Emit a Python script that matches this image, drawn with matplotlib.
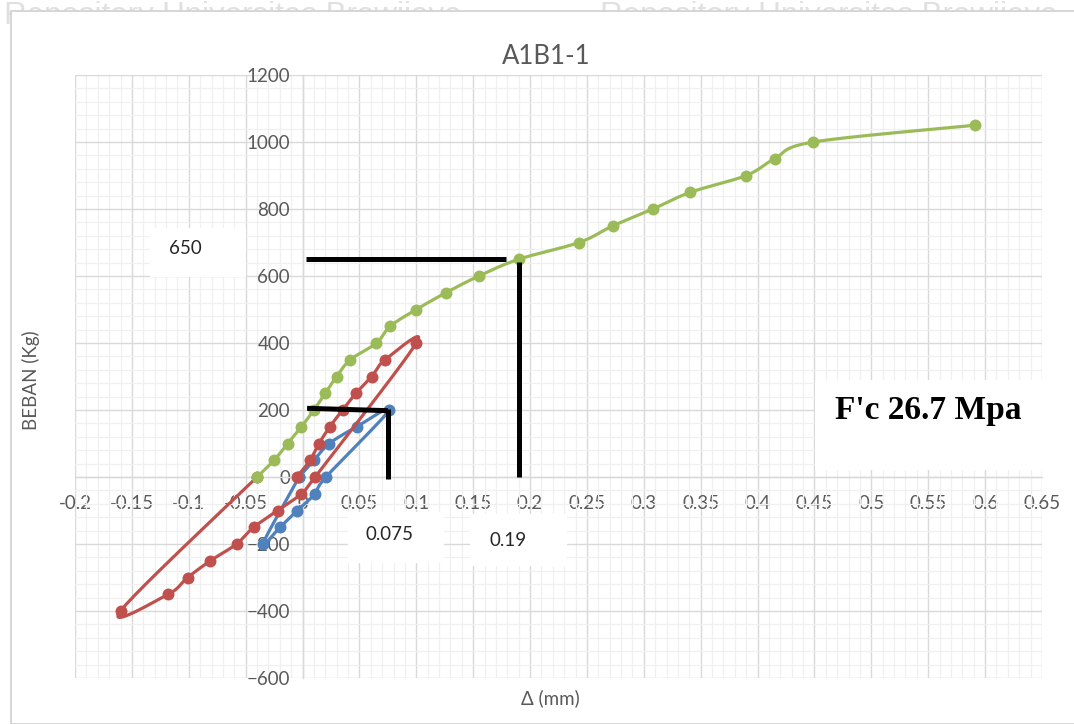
import numpy as np
import matplotlib
matplotlib.use("Agg")
import matplotlib.pyplot as plt
from matplotlib.patches import Rectangle
from matplotlib.ticker import MultipleLocator, FixedLocator

# ---- data: deflection (mm) and load (kg) ----
blue_x = [-0.003, 0.010, 0.0236, 0.0476, 0.0763, 0.0206, 0.011, -0.0046, -0.0198, -0.035, -0.003]
blue_y = [0, 50, 100, 150, 200, 0, -50, -100, -150, -200, 0]

red_x = [-0.005, 0.0066, 0.0145, 0.0240, 0.0352, 0.0470, 0.0608, 0.0725, 0.100,
         0.011, -0.001, -0.022, -0.043, -0.058, -0.081, -0.101, -0.118, -0.160, -0.040]
red_y = [0, 50, 100, 150, 200, 250, 300, 350, 400,
         0, -50, -100, -150, -200, -250, -300, -350, -400, 0]

green_x = [-0.040, -0.025, -0.013, -0.001, 0.010, 0.020, 0.030, 0.042, 0.065, 0.077,
           0.100, 0.126, 0.155, 0.190, 0.243, 0.273, 0.308, 0.341, 0.390, 0.415,
           0.449, 0.591]
green_y = [0, 50, 100, 150, 200, 250, 300, 350, 400, 450,
           500, 550, 600, 650, 700, 750, 800, 850, 900, 950,
           1000, 1050]

x_ticks = [-0.2, -0.15, -0.1, -0.05, 0, 0.05, 0.1, 0.15, 0.2, 0.25, 0.3, 0.35,
           0.4, 0.45, 0.5, 0.55, 0.6, 0.65]
x_tick_labels = ["-0.2", "-0.15", "-0.1", "-0.05", "0", "0.05", "0.1", "0.15", "0.2",
                 "0.25", "0.3", "0.35", "0.4", "0.45", "0.5", "0.55", "0.6", "0.65"]
y_ticks = [-600, -400, -200, 0, 200, 400, 600, 800, 1000, 1200]

# reference marks (ultimate/yield readings)
mark_650 = 650
mark_019 = 0.19
mark_200 = 200
mark_0075 = 0.075

FONT = ["Lato", "DejaVu Sans"]
GRAY_TXT = "#595959"
W, H = 1074, 724

fig = plt.figure(figsize=(W / 100, H / 100), dpi=100)
fig.patch.set_facecolor("white")


def fx(px):
    return px / W


def fy(py):
    return 1 - py / H


# faint repository watermark peeking around the chart frame
for xs in (4, 600):
    fig.text(fx(xs), fy(1), "Repository Universitas Brawijaya", fontsize=22.5,
             family=["Liberation Sans"], color="#e0e0e0", va="top", ha="left",
             zorder=-3)
fig.add_artist(Rectangle((fx(11), 0), 1.0, fy(11), transform=fig.transFigure,
                         facecolor="white", edgecolor="#d0d0d0", linewidth=1.2,
                         zorder=-2))

ax = fig.add_axes([fx(75), fy(678), (1042 - 75) / W, (678 - 75) / H])
ax.set_facecolor("none")
ax.set_xlim(-0.2, 0.65)
ax.set_ylim(-600, 1200)

# grid
ax.xaxis.set_major_locator(FixedLocator(x_ticks))
ax.yaxis.set_major_locator(FixedLocator(y_ticks))
ax.xaxis.set_minor_locator(MultipleLocator(0.01))
ax.yaxis.set_minor_locator(MultipleLocator(40))
ax.grid(which="major", color="#d9d9d9", linewidth=1.0, zorder=0)
ax.grid(which="minor", color="#f0f0f0", linewidth=0.9, zorder=0)
ax.set_axisbelow(True)

for s in ("top", "right"):
    ax.spines[s].set_visible(False)
ax.spines["left"].set_position(("data", 0))
ax.spines["bottom"].set_position(("data", 0))
for s in ("left", "bottom"):
    ax.spines[s].set_color("#d9d9d9")
    ax.spines[s].set_linewidth(1.0)

ax.set_xticklabels(x_tick_labels)
ax.tick_params(which="both", length=0)
ax.tick_params(axis="x", pad=13, labelsize=13.5, labelcolor=GRAY_TXT)
ax.tick_params(axis="y", pad=9, labelsize=13.5, labelcolor=GRAY_TXT)
for lab in ax.get_xticklabels() + ax.get_yticklabels():
    lab.set_family(FONT)

fig.canvas.draw()


def smooth_line(xs, ys, n=24):
    """Smoothed polyline through the points (Catmull-Rom in display space)."""
    P = ax.transData.transform(np.column_stack([xs, ys]))
    pts = np.vstack([P[0], P, P[-1]])
    out = []
    for i in range(1, len(pts) - 2):
        p0, p1, p2, p3 = pts[i - 1], pts[i], pts[i + 1], pts[i + 2]
        c1 = p1 + (p2 - p0) / 6.0
        c2 = p2 - (p3 - p1) / 6.0
        t = np.linspace(0, 1, n)[:, None]
        seg = ((1 - t) ** 3) * p1 + 3 * ((1 - t) ** 2) * t * c1 + 3 * (1 - t) * t ** 2 * c2 + t ** 3 * p2
        out.append(seg if i == 1 else seg[1:])
    D = ax.transData.inverted().transform(np.vstack(out))
    return D[:, 0], D[:, 1]


series = [(blue_x, blue_y, "#4F81BD"),
          (red_x, red_y, "#C0504D"),
          (green_x, green_y, "#9BBB59")]
z = 3
for xs, ys, col in series:
    sx, sy = smooth_line(xs, ys)
    ax.plot(sx, sy, color=col, linewidth=2.3, solid_capstyle="round", zorder=z)
    ax.plot(xs, ys, linestyle="none", marker="o", markersize=8.6, color=col,
            markeredgewidth=0, zorder=z + 0.5)
    z += 1

# black guide lines
kw = dict(color="black", linewidth=3.6, solid_capstyle="butt", zorder=8)
ax.plot([0.003, 0.179], [mark_650, mark_650], **kw)
ax.plot([mark_019, mark_019], [0, mark_650 - 8], **kw)
ax.plot([0.004, mark_0075], [mark_200 + 5, mark_200 - 2], **kw)
ax.plot([mark_0075, mark_0075], [mark_200 + 4, -5], **kw)


def note(x0, y0, x1, y1, text, tx, ty, **tkw):
    fig.add_artist(Rectangle((fx(x0), fy(y1)), (x1 - x0) / W, (y1 - y0) / H,
                             transform=fig.transFigure, facecolor="white",
                             edgecolor="none", zorder=5))
    fig.text(fx(tx), fy(ty), text, ha="center", va="center", zorder=6, **tkw)


note(150, 228, 246, 277, f"{mark_650}", 185, 248, fontsize=13.5, family=FONT, color="#262626")
note(348, 512, 444, 563, f"{mark_0075}", 390, 535, fontsize=13.5, family=FONT, color="#262626")
note(470, 514, 567, 566, f"{mark_019}", 508, 540, fontsize=13.5, family=FONT, color="#262626")
note(815, 380, 1043, 470, "F'c 26.7 Mpa", 928, 411, fontsize=24, fontweight="bold",
     family=["Liberation Serif"], color="black")

# titles
fig.text(fx(546), fy(56), "A1B1-1", ha="center", va="center", fontsize=18.5,
         family=FONT, color=GRAY_TXT)
fig.text(fx(550), fy(698), "Δ (mm)", ha="center", va="center", fontsize=13.5,
         family=FONT, color=GRAY_TXT)
fig.text(fx(31), fy(380), "BEBAN (Kg)", ha="center", va="center", rotation=90,
         fontsize=13.5, family=FONT, color=GRAY_TXT)

fig.savefig("out.png", dpi=100, facecolor="white")
